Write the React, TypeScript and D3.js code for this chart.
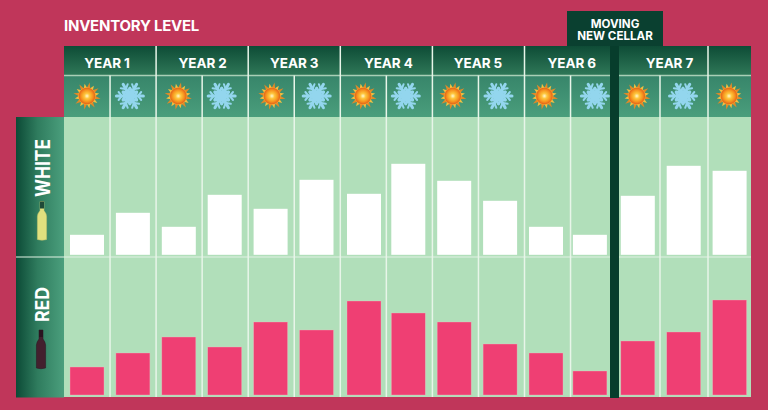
import React from "react";
import * as d3 from "d3";

const W = 768, H = 410;
const yearLabels = ["YEAR 1", "YEAR 2", "YEAR 3", "YEAR 4", "YEAR 5", "YEAR 6", "YEAR 7"];
const seasons = ["sun","snow","sun","snow","sun","snow","sun","snow","sun","snow","sun","snow","sun","snow","sun"];
const whiteValues = [20, 42, 28, 60, 46, 75, 61, 91, 74, 54, 28, 20, 59, 89, 84];
const redValues = [28, 42, 58, 48, 73, 65, 94, 82, 73, 51, 42, 24, 54, 63, 95];

const L = 64, R = 751, TOP = 46, ROW1 = 75.5, ROW2 = 117, MID = 257, BOT = 397;
const colX = d3.scaleLinear().domain([0, 15]).range([64, 64 + 46.05 * 15]);
const boundary = (i: number) => (i === 12 ? 619 : i === 14 ? 708 : i === 13 ? 660 : i === 15 ? R : colX(i));
const barNudge = (i: number) => (i === 11 ? -2 : i === 6 ? 1.6 : 0);
const barCenter = (i: number) => 87 + 45.9 * i + barNudge(i);
const iconNudge = [0, -3, -0.5, -3, 1.3, 0.2, 0.6, -2.5, -1.4, -1.6, -1.6, 3, -1, -0.7, -0.6];
const labelNudge = [-3, 0.5, 0, 2, -0.5, 0, 6];
const BAR_W = 34;
const whiteY = d3.scaleLinear().domain([0, 100]).range([254.8, 154.8]);
const redY = d3.scaleLinear().domain([0, 100]).range([395, 295]);

function Sun({ cx, cy }: { cx: number; cy: number }) {
  const rays = d3.range(16).map((k) => {
    const a = (k / 16) * Math.PI * 2 + Math.PI / 16;
    const long = k % 2 === 0 ? 13.8 : 12.4;
    const w = 0.22;
    const p = (r: number, t: number) => `${cx + r * Math.cos(t)},${cy + r * Math.sin(t)}`;
    return `M${p(8, a - w)}L${p(long, a)}L${p(8, a + w)}Z`;
  });
  return (
    <g>
      {rays.map((d, i) => <path key={i} d={d} fill={i % 2 ? "#f5c040" : "#e08a28"} />)}
      <circle cx={cx} cy={cy} r={8.8} fill="url(#sunGrad)" />
    </g>
  );
}

function Snow({ cx, cy }: { cx: number; cy: number }) {
  const arms = d3.range(6).map((k) => (k / 6) * Math.PI * 2);
  const line = d3.line();
  return (
    <g stroke="#93d6ee" fill="none" strokeLinecap="round">
      {arms.map((a, i) => {
        const p = (r: number, off = 0): [number, number] => [cx + r * Math.cos(a + off), cy + r * Math.sin(a + off)];
        return (
          <g key={i}>
            <path d={line([[cx, cy], p(13.5)]) ?? ""} strokeWidth={3} />
            <path d={line([p(12, 0.34), p(8), p(12, -0.34)]) ?? ""} strokeWidth={2} />
            <path d={line([p(8, 0.5), p(4.5), p(8, -0.5)]) ?? ""} strokeWidth={2.6} />
          </g>
        );
      })}
      <circle cx={cx} cy={cy} r={5.5} fill="#93d6ee" stroke="none" />
    </g>
  );
}

function Bottle({ x, y, body, neck, cap }: { x: number; y: number; body: string; neck: string; cap: string }) {
  const d = `M${x - 4.6},${y - 1} L${x - 4.6},${y - 24} Q${x - 4.4},${y - 27} ${x - 2},${y - 30} L${x - 2},${y - 39} L${x + 2},${y - 39} L${x + 2},${y - 30} Q${x + 4.4},${y - 27} ${x + 4.6},${y - 24} L${x + 4.6},${y - 1} Q${x},${y + 0.5} ${x - 4.6},${y - 1} Z`;
  return (
    <g>
      <path d={d} fill={body} stroke={neck} strokeWidth={0.5} />
      <rect x={x - 2} y={y - 39} width={4} height={7} fill={cap} />
    </g>
  );
}

export default function App() {
  const yearSpans = yearLabels.map((label, i) => {
    const c0 = i * 2;
    return { label, x: (boundary(c0) + boundary(c0 + 2)) / 2 + labelNudge[i] };
  });
  const font = "Inter, 'Open Sans', sans-serif";
  return (
    <svg width={W} height={H} viewBox={`0 0 ${W} ${H}`} style={{ position: "absolute", left: 0, top: 0, display: "block" }}>
      <defs>
        <linearGradient id="yearGrad" x1="0" y1="0" x2="0" y2="1">
          <stop offset="0" stopColor="#0e4c36" />
          <stop offset="1" stopColor="#2f7858" />
        </linearGradient>
        <linearGradient id="seasonGrad" x1="0" y1="0" x2="0" y2="1">
          <stop offset="0" stopColor="#37856a" />
          <stop offset="1" stopColor="#4a9e7c" />
        </linearGradient>
        <linearGradient id="sideGrad" x1="0" y1="0" x2="1" y2="0">
          <stop offset="0" stopColor="#0c4a36" />
          <stop offset="0.45" stopColor="#2f7c5e" />
          <stop offset="1" stopColor="#4b9f7d" />
        </linearGradient>
        <radialGradient id="sunGrad">
          <stop offset="0" stopColor="#fff8d0" />
          <stop offset="0.3" stopColor="#fdc63e" />
          <stop offset="0.65" stopColor="#f7951f" />
          <stop offset="0.88" stopColor="#e66c1c" />
          <stop offset="1" stopColor="#f2a632" />
        </radialGradient>
      </defs>
      <rect width={W} height={H} fill="#c0365a" />
      <text x={64} y={31} fill="#fff" fontFamily={font} fontWeight={700} fontSize={15} letterSpacing={-0.25}>INVENTORY LEVEL</text>

      <rect x={L} y={TOP} width={R - L} height={ROW1 - TOP} fill="url(#yearGrad)" />
      <rect x={L} y={ROW1} width={R - L} height={ROW2 - ROW1} fill="url(#seasonGrad)" />
      <rect x={L} y={ROW2} width={R - L} height={BOT - ROW2} fill="#b1dfba" />
      <rect x={16} y={ROW2} width={L - 16} height={BOT - ROW2 + 0.5} fill="url(#sideGrad)" />

      <line x1={L} x2={R} y1={ROW1} y2={ROW1} stroke="#a9cfb6" strokeWidth={1.6} />
      <line x1={16} x2={R} y1={MID} y2={MID} stroke="#e2f2e4" strokeWidth={1.2} />
      {d3.range(1, 15).map((i) =>
        i === 12 ? null : (
          <line key={i} x1={boundary(i)} x2={boundary(i)} y1={i % 2 === 0 ? TOP : ROW1} y2={BOT} stroke="#e8f5e9" strokeWidth={1.5} />
        )
      )}

      {seasons.map((s, i) => {
        const cx = 87 + 45.9 * i + iconNudge[i];
        return s === "sun" ? <Sun key={i} cx={cx} cy={96} /> : <Snow key={i} cx={cx} cy={96} />;
      })}

      {whiteValues.map((v, i) => (
        <rect key={i} x={barCenter(i) - BAR_W / 2} y={whiteY(v)} width={BAR_W} height={whiteY(0) - whiteY(v)} fill="#ffffff" />
      ))}
      {redValues.map((v, i) => (
        <rect key={i} x={barCenter(i) - BAR_W / 2} y={redY(v)} width={BAR_W} height={redY(0) - redY(v)} fill="#ef3f73" stroke="#eec0c4" strokeOpacity={0.6} strokeWidth={0.6} />
      ))}

      {yearSpans.map((s) => (
        <text key={s.label} x={s.x} y={67.5} textAnchor="middle" fill="#fff" fontFamily={font} fontWeight={700} fontSize={13.5} letterSpacing={-0.1}>{s.label}</text>
      ))}

      <rect x={610} y={TOP} width={9} height={BOT - TOP + 1} fill="#073d2c" />
      <rect x={567} y={11} width={96} height={35} fill="#0a4030" />
      <text textAnchor="middle" fill="#fff" fontFamily={font} fontWeight={700} fontSize={11.6}>
        <tspan x={615} y={27.7}>MOVING</tspan>
        <tspan x={615} y={40}>NEW CELLAR</tspan>
      </text>

      <text transform="translate(50,197) rotate(-90)" fill="#fff" fontFamily={font} fontWeight={700} fontSize={20} textLength={58} lengthAdjust="spacingAndGlyphs">WHITE</text>
      <Bottle x={42} y={240.5} body="#e0e07e" neck="#c4c46a" cap="#1f4a38" />
      <text transform="translate(48.5,322) rotate(-90)" fill="#fff" fontFamily={font} fontWeight={700} fontSize={19} textLength={35} lengthAdjust="spacingAndGlyphs">RED</text>
      <Bottle x={41} y={369} body="#43202e" neck="#2a1420" cap="#2a1420" />
    </svg>
  );
}
